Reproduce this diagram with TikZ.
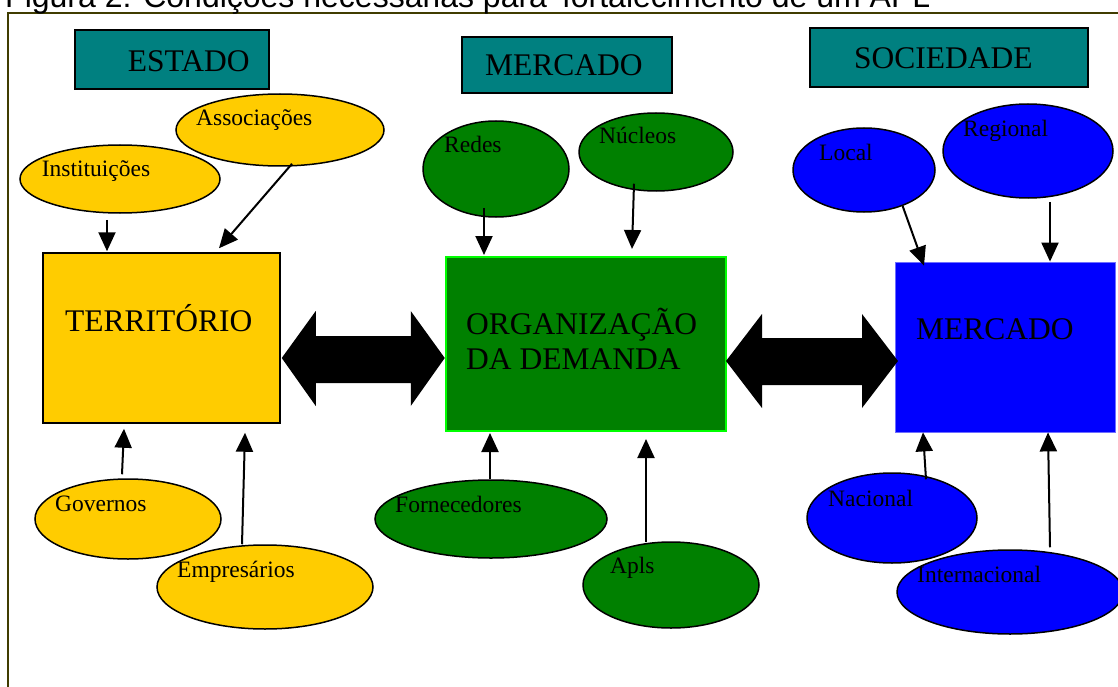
\documentclass[tikz,border=0pt]{standalone}
\usepackage{fontspec}
\setmainfont{Liberation Serif}
\newfontfamily\titlefont[Ligatures=TeXOff]{Liberation Sans}
\usepackage{tikz}
\usetikzlibrary{arrows.meta,calc,positioning,shapes.geometric}
\definecolor{apl_yellow}{RGB}{255, 204, 0}
\definecolor{apl_green}{RGB}{0, 128, 0}
\definecolor{apl_lime}{RGB}{0, 255, 0}
\definecolor{apl_blue}{RGB}{0, 0, 255}
\definecolor{apl_rim}{RGB}{110, 110, 255}
\definecolor{apl_teal}{RGB}{0, 128, 128}
\definecolor{apl_frame}{RGB}{64, 60, 0}
\tikzset{
  bubble/.style = {ellipse, draw=black, line width=1.5pt, inner sep=0pt},
  ylw/.style = {bubble, fill=apl_yellow},
  grn/.style = {bubble, fill=apl_green},
  blu/.style = {bubble, fill=apl_blue},
  tag/.style = {inner sep=0pt, anchor=base west, font=\fontsize{23.5}{26}\selectfont},
  big/.style = {inner sep=0pt, anchor=base west, font=\fontsize{31.5}{35}\selectfont},
  headbox/.style = {rectangle, draw=black, line width=1.5pt, fill=apl_teal, inner sep=0pt}
}

\begin{document}
\begin{tikzpicture}[x=1pt, y=-1pt, >={Triangle[width=17pt,length=19pt]},
        link/.style={->, line width=2pt},
        block/.style={rectangle, inner sep=0pt},
        swap/.style={fill=black, draw=none}]
    \useasboundingbox (0,0) rectangle (1118,687);
    \clip (0,0) rectangle (1118,687);
    \draw[apl_frame, line width=2pt] (8,700) -- (8,13) -- (1130,13);
    \node[inner sep=0pt, anchor=base west, font=\titlefont\fontsize{32}{36}\selectfont] (title) at (5,7.5)
        {Figura 2: Condições necessárias para 'fortalecimento de um APL};

    % column heads
    \node[headbox, minimum width=194pt, minimum height=59pt] (est) at (172,59.5) {};
    \node[headbox, minimum width=210pt, minimum height=56pt] (mkt) at (567,65) {};
    \node[headbox, minimum width=278pt, minimum height=59pt] (soc) at (949,57.5) {};
    \node[big] (est-t) at (127.7,72) {ESTADO};
    \node[big] (mkt-t) at (485,75.5) {MERCADO};
    \node[big] (soc-t) at (854,69) {SOCIEDADE};

    % main blocks
    \node[block, draw=black, line width=1.5pt, fill=apl_yellow, minimum width=237pt, minimum height=170pt] (terr) at (161.5,338) {};
    \node[block, draw=apl_lime, line width=2pt, fill=apl_green, minimum width=280pt, minimum height=174pt] (org) at (586,344) {};
    \node[block, draw=apl_rim, line width=0.8pt, fill=apl_blue, minimum width=220pt, minimum height=170pt] (merc) at (1005,347) {};
    \node[big] (terr-t) at (65,331) {TERRITÓRIO};
    \node[big, align=left] (org-t) at (466,369) {ORGANIZAÇÃO\\DA DEMANDA};
    \node[big] (merc-t) at (916,339) {MERCADO};

    % two-way arrows
    \fill[swap] ($(terr.east)+(1,20)$) -- ++(34,-47) -- ++(0,25) -- ++(95,0) -- ++(0,-25) -- ++(34,47)
        -- ++(-34,48) -- ++(0,-23) -- ++(-95,0) -- ++(0,23) -- cycle;
    \fill[swap] ($(org.east)+(-1,17)$) -- ++(36,-47) -- ++(0,24) -- ++(100,0) -- ++(0,-24) -- ++(36,47)
        -- ++(-36,47) -- ++(0,-23) -- ++(-100,0) -- ++(0,23) -- cycle;

    % estado
    \node[ylw, minimum width=200pt, minimum height=68pt] (inst) at (120,179) {};
    \node[ylw, minimum width=208pt, minimum height=72pt] (assoc) at (280,130) {};
    \node[ylw, minimum width=186pt, minimum height=80pt] (gov) at (128,519) {};
    \node[ylw, minimum width=216pt, minimum height=84pt] (emp) at (265,587) {};
    \node[tag] (inst-t) at (41.7,177) {Instituições};
    \node[tag] (assoc-t) at (196,126) {Associações};
    \node[tag] (gov-t) at (55,511) {Governos};
    \node[tag] (emp-t) at (177,577) {Empresários};

    % mercado
    \node[grn, minimum width=146pt, minimum height=96pt] (redes) at (496,169) {};
    \node[grn, minimum width=154pt, minimum height=78pt] (nuc) at (656,152) {};
    \node[grn, minimum width=232pt, minimum height=78pt] (forn) at (491,519) {};
    \node[grn, minimum width=176pt, minimum height=86pt] (apls) at (671,585) {};
    \node[tag] (redes-t) at (444,153) {Redes};
    \node[tag] (nuc-t) at (599,144) {Núcleos};
    \node[tag] (forn-t) at (395,512) {Fornecedores};
    \node[tag] (apls-t) at (610,573) {Apls};

    % sociedade
    \node[blu, minimum width=142pt, minimum height=84pt] (local) at (864,170) {};
    \node[blu, minimum width=170pt, minimum height=94pt] (regi) at (1028,151) {};
    \node[blu, minimum width=170pt, minimum height=90pt] (nac) at (892,518) {};
    \node[blu, minimum width=226pt, minimum height=84pt] (intl) at (1010,592) {};
    \node[tag] (local-t) at (819,161) {Local};
    \node[tag] (regi-t) at (963,137) {Regional};
    \node[tag] (nac-t) at (828,506) {Nacional};
    \node[tag] (intl-t) at (917,582) {Internacional};

    \draw[link] ($(inst.south)+(-13,6)$) -- ($(terr.north)+(-54.5,-1)$);
    \draw[link] ($(assoc.south)+(12,-3)$) -- ($(terr.north)+(57.5,-4)$);
    \draw[link] ($(gov.north)+(-6,-4)$) -- ($(terr.south)+(-37.5,5)$);
    \draw[link] ($(emp.north)+(-23,0)$) -- ($(terr.south)+(83.5,9)$);
    \draw[link] ($(redes.south)+(-12,-10)$) -- ($(org.north)+(-102,-1)$);
    \draw[link] ($(nuc.south)+(-22,-8)$) -- ($(org.north)+(46,-7)$);
    \draw[link] ($(forn.north)+(-1,0)$) -- ($(org.south)+(-96,1)$);
    \draw[link] ($(apls.north)+(-25,1)$) -- ($(org.south)+(60,7)$);
    \draw[link] (local.-43) -- ($(merc.north)+(-81,4)$);
    \draw[link] ($(regi.south)+(22,3)$) -- ($(merc.north)+(45,0)$);
    \draw[link] ($(nac.north)+(34,7)$) -- ($(merc.south)+(-82,0)$);
    \draw[link] ($(intl.north)+(40,-2)$) -- ($(merc.south)+(43,0)$);
\end{tikzpicture}
\end{document}
